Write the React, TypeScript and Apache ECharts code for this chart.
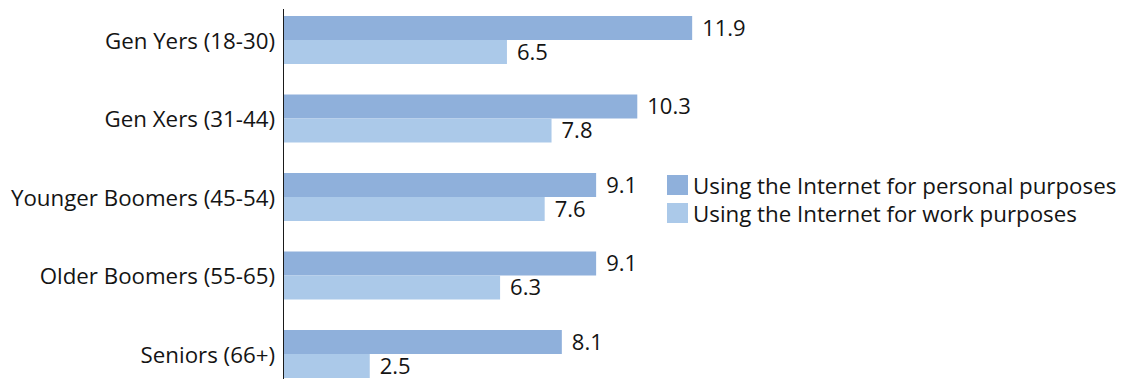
import React, { useEffect, useRef } from "react";
import * as echarts from "echarts";

const categories = [
  "Gen Yers (18-30)",
  "Gen Xers (31-44)",
  "Younger Boomers (45-54)",
  "Older Boomers (55-65)",
  "Seniors (66+)",
];
const personalName = "Using the Internet for personal purposes";
const workName = "Using the Internet for work purposes";
const personalValues = [11.9, 10.3, 9.1, 9.1, 8.1];
const workValues = [6.5, 7.8, 7.6, 6.3, 2.5];

const FONT = "'Open Sans', 'Noto Sans', sans-serif";
const TEXT = "#141414";

export default function App() {
  const ref = useRef<HTMLDivElement>(null);
  useEffect(() => {
    document.body.style.margin = "0";
    const chart = echarts.init(ref.current!, null, { renderer: "svg" });
    const barLabel = {
      show: true,
      position: "right",
      distance: 10,
      offset: [0, -1.5],
      fontSize: 22,
      lineHeight: 18,
      color: TEXT,
      fontFamily: FONT,
    };
    chart.setOption({
      animation: false,
      backgroundColor: "#ffffff",
      textStyle: { fontFamily: FONT, color: TEXT },
      grid: {
        left: 284,
        width: 823.2,
        top: 0.75,
        height: 392.5,
        containLabel: false,
        outerBoundsMode: "none",
      },
      xAxis: { type: "value", min: 0, max: 24, show: false },
      yAxis: {
        type: "category",
        data: categories,
        inverse: true,
        axisLine: { show: false },
        axisTick: { show: false },
        splitLine: { show: false },
        axisLabel: { fontSize: 22.3, color: TEXT, fontFamily: FONT, margin: 9 },
      },
      legend: {
        orient: "vertical",
        left: 667,
        top: 174,
        itemWidth: 21,
        itemHeight: 20,
        itemGap: 6,
        icon: "rect",
        padding: 0,
        textStyle: { fontSize: 22.3, lineHeight: 20, color: TEXT, fontFamily: FONT },
        data: [personalName, workName],
      },
      graphic: [
        {
          type: "line",
          shape: { x1: 283.5, y1: 9, x2: 283.5, y2: 379 },
          style: { stroke: "#1a1a1a", lineWidth: 1 },
        },
      ],
      series: [
        {
          name: personalName,
          type: "bar",
          data: personalValues,
          barWidth: 24,
          barGap: "0%",
          itemStyle: { color: "#8FB0DB" },
          label: barLabel,
        },
        {
          name: workName,
          type: "bar",
          data: workValues,
          barWidth: 24,
          barGap: "0%",
          itemStyle: { color: "#ABC9E9" },
          label: barLabel,
        },
      ],
    });
    return () => chart.dispose();
  }, []);
  return <div ref={ref} style={{ width: 1128, height: 379 }} />;
}
